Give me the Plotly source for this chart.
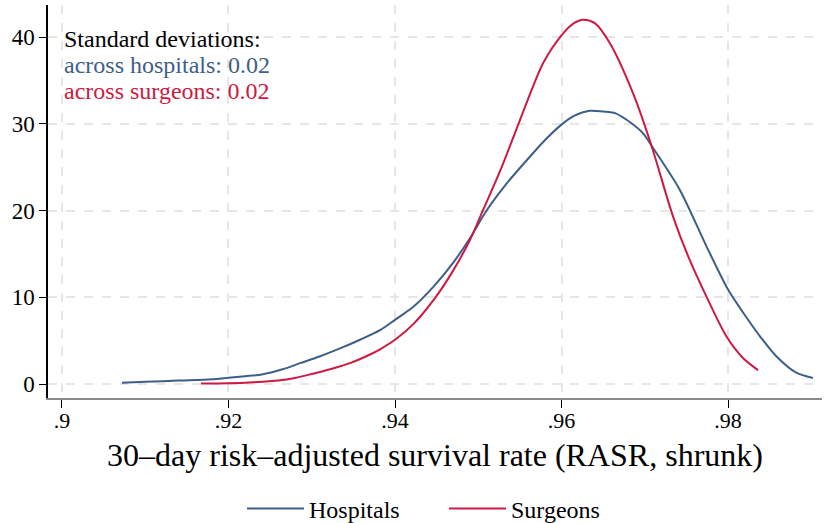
import plotly.graph_objects as go

# Kernel density estimates of 30-day RASR (shrunk)
hosp_x = [0.9072, 0.910, 0.914, 0.918, 0.920, 0.922, 0.924, 0.9265, 0.9286, 0.931,
          0.9334, 0.9358, 0.9382, 0.940, 0.9422, 0.9446, 0.947, 0.949, 0.951, 0.9534,
          0.9562, 0.958, 0.960, 0.9615, 0.9634, 0.965, 0.9665, 0.9682, 0.9698, 0.971,
          0.9742, 0.9774, 0.980, 0.9822, 0.984, 0.9858, 0.9882, 0.9902]
hosp_y = [0.15, 0.25, 0.4, 0.55, 0.73, 0.9, 1.1, 1.7, 2.4, 3.2,
          4.1, 5.1, 6.2, 7.4, 8.9, 11.2, 14.0, 16.8, 20.0, 23.1,
          26.2, 28.1, 29.9, 30.9, 31.5, 31.4, 31.2, 30.2, 28.9, 27.2,
          22.4, 15.9, 10.9, 7.7, 5.3, 3.2, 1.3, 0.7]

surg_x = [0.9167, 0.920, 0.923, 0.926, 0.928, 0.930, 0.9322, 0.9346, 0.937, 0.9382,
          0.940, 0.9422, 0.9448, 0.947, 0.949, 0.9506, 0.9526, 0.955, 0.9556, 0.9578,
          0.960, 0.9615, 0.9626, 0.964, 0.9658, 0.9686, 0.9708, 0.9734, 0.9754, 0.9774,
          0.9798, 0.9818, 0.9836]
surg_y = [0.05, 0.08, 0.2, 0.4, 0.7, 1.15, 1.7, 2.4, 3.4, 4.0,
          5.1, 6.9, 9.9, 13.1, 16.6, 20.1, 24.5, 30.4, 31.9, 37.0,
          40.2, 41.6, 42.0, 41.6, 39.3, 33.5, 27.5, 19.3, 14.3, 10.1,
          5.5, 3.0, 1.6]

x_ticks = [0.90, 0.92, 0.94, 0.96, 0.98]
x_tick_text = [".9", ".92", ".94", ".96", ".98"]
y_ticks = [0, 10, 20, 30, 40]

BLUE = "#3d5f87"
RED = "#cc1a42"
FONT = "Liberation Serif"

fig = go.Figure()
fig.add_trace(go.Scatter(x=hosp_x, y=hosp_y, mode="lines", name="Hospitals",
                         line=dict(color=BLUE, width=2, shape="spline", smoothing=0.8)))
fig.add_trace(go.Scatter(x=surg_x, y=surg_y, mode="lines", name="Surgeons",
                         line=dict(color=RED, width=2, shape="spline", smoothing=0.8)))

grid = dict(showgrid=True, gridcolor="#e6e6e6", gridwidth=1.5, griddash="dash", zeroline=False)

fig.update_xaxes(range=[0.89832, 0.99129], tickvals=x_ticks, ticktext=x_tick_text,
                 ticks="outside", ticklen=8, tickcolor="black", tickwidth=1,
                 ticklabelstandoff=-6,
                 showline=True, linecolor="#8a8a8a", linewidth=1.5, automargin=False,
                 tickfont=dict(family=FONT, size=22, color="black"),
                 title=dict(text="30\u2013day risk\u2013adjusted survival rate (RASR, shrunk)",
                            font=dict(family=FONT, size=32, color="black"), standoff=11),
                 **grid)
fig.update_yaxes(range=[-1.614, 43.69], tickvals=y_ticks, automargin=False,
                 ticks="outside", ticklen=7, tickcolor="black", tickwidth=1,
                 showline=True, linecolor="black", linewidth=1.5,
                 tickfont=dict(family=FONT, size=23, color="black"),
                 **grid)

notes = [("Standard deviations:", "black", 39),
         ("across hospitals: 0.02", BLUE, 65),
         ("across surgeons: 0.02", RED, 91)]
for txt, col, ypix in notes:
    fig.add_annotation(x=0.0181, xref="paper", y=1 - (ypix - 5) / 393, yref="paper",
                       text=txt, showarrow=False, xanchor="left", yanchor="middle",
                       font=dict(family=FONT, size=24, color=col))

fig.update_layout(
    width=826, height=523,
    margin=dict(l=48, r=4, t=5, b=125, autoexpand=False),
    paper_bgcolor="white", plot_bgcolor="white",
    font=dict(family=FONT, color="black"),
    legend=dict(orientation="h", x=0.5375, xanchor="center", xref="container",
                y=0.027, yanchor="middle", yref="container",
                font=dict(family=FONT, size=24), itemwidth=57, tracegroupgap=0,
                entrywidth=130, entrywidthmode="pixels"),
    showlegend=True,
)

fig.write_html("out.html")
